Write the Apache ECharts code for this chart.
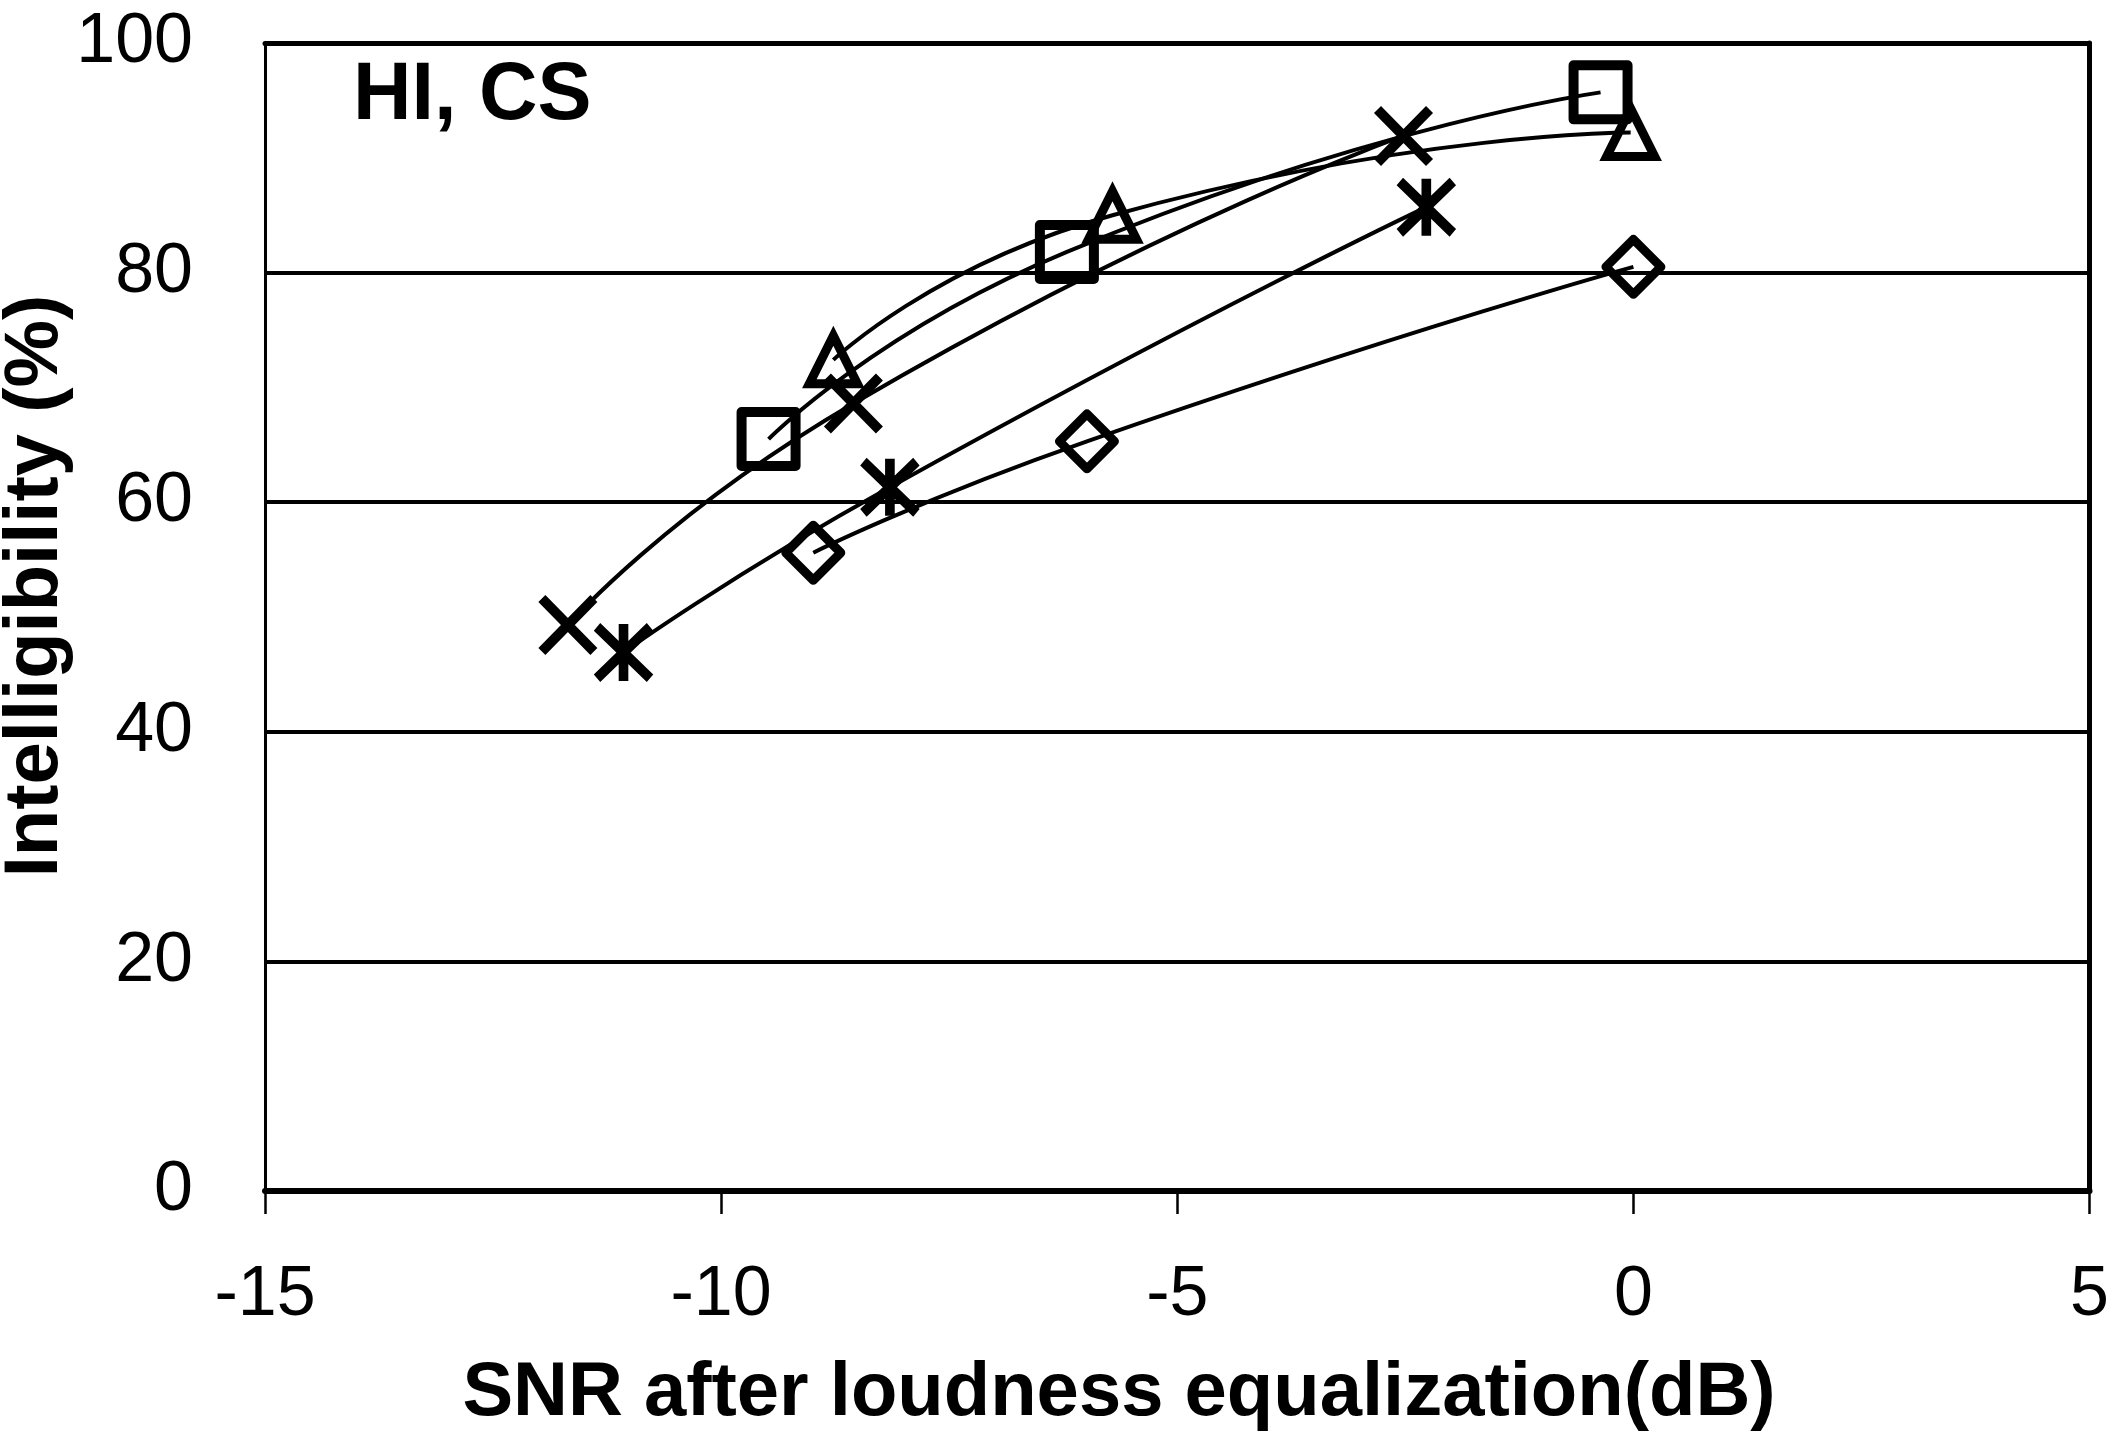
<!DOCTYPE html>
<html>
<head>
<meta charset="utf-8">
<script src="https://cdn.jsdelivr.net/npm/echarts@6/dist/echarts.min.js"></script>
<style>
  html, body { margin: 0; padding: 0; background: #fff; }
  #chart { width: 2112px; height: 1441px; }
</style>
</head>
<body>
<div id="chart"></div>
<script>
// ---- Data ----
var xTicks = [-15, -10, -5, 0, 5];
var yTicks = [0, 20, 40, 60, 80, 100];

var snrSquare   = [-9.48, -6.21, -0.36];
var intSquare   = [65.5, 81.8, 95.7];

var snrTriangle = [-8.77, -5.71, -0.03];
var intTriangle = [72.4, 85.0, 92.2];

var snrCross    = [-11.68, -8.55, -2.52];
var intCross    = [49.3, 68.6, 91.9];

var snrStar     = [-11.07, -8.15, -2.27];
var intStar     = [46.9, 61.3, 85.7];

var snrDiamond  = [-8.99, -5.99, 0.0];
var intDiamond  = [55.6, 65.3, 80.5];

var panelLabel = 'HI, CS';
var xTitle = 'SNR after loudness equalization(dB)';
var yTitle = 'Intelligibility (%)';

function pairs(xs, ys) {
  return xs.map(function (x, i) { return [x, ys[i]]; });
}

var FONT = '"Liberation Sans", Arial, Helvetica, sans-serif';
var crossPath = 'path://M0,0L10,10M10,0L0,10';
var starPath  = 'path://M0,0.5L10,9.5M10,0.5L0,9.5M5,0L5,10';

function mkSeries(name, xs, ys, symbol, size, bw, join) {
  return {
    name: name,
    type: 'line',
    data: pairs(xs, ys),
    smooth: 0.6,
    symbol: symbol,
    symbolSize: size,
    showAllSymbol: true,
    lineStyle: { color: '#000', width: 4 },
    itemStyle: { color: 'rgba(0,0,0,0)', borderColor: '#000', borderWidth: bw, borderJoin: join || 'miter' },
    emphasis: { disabled: true },
    z: 3
  };
}

var chart = echarts.init(document.getElementById('chart'), null, { renderer: 'canvas' });

chart.setOption({
  animation: false,
  backgroundColor: '#fff',
  grid: { left: 265, right: 20, top: 43, bottom: 250, containLabel: false, show: false },
  xAxis: [{
    type: 'value',
    min: xTicks[0], max: xTicks[xTicks.length - 1], interval: 5,
    position: 'bottom',
    axisLine: { show: true, onZero: false, lineStyle: { color: '#000', width: 6 } },
    axisTick: { show: true, inside: false, length: 23, lineStyle: { color: '#000', width: 2.5 } },
    axisLabel: { show: true, margin: 70, color: '#000', fontSize: 70, fontFamily: FONT },
    splitLine: { show: false }
  }, {
    type: 'value',
    min: xTicks[0], max: xTicks[xTicks.length - 1], interval: 5,
    position: 'top',
    axisLine: { show: true, onZero: false, lineStyle: { color: '#000', width: 5 } },
    axisTick: { show: false },
    axisLabel: { show: false },
    splitLine: { show: false }
  }],
  yAxis: [{
    type: 'value',
    min: yTicks[0], max: yTicks[yTicks.length - 1], interval: 20,
    position: 'left',
    axisLine: { show: true, onZero: false, lineStyle: { color: '#000', width: 3 } },
    axisTick: { show: false },
    axisLabel: { show: true, margin: 72, color: '#000', fontSize: 70, fontFamily: FONT },
    splitLine: { show: true, lineStyle: { color: '#000', width: 4 } }
  }, {
    type: 'value',
    min: yTicks[0], max: yTicks[yTicks.length - 1], interval: 20,
    position: 'right',
    axisLine: { show: true, onZero: false, lineStyle: { color: '#000', width: 5 } },
    axisTick: { show: false },
    axisLabel: { show: false },
    splitLine: { show: false }
  }],
  series: [
    mkSeries('Square', snrSquare, intSquare, 'rect', 54, 10, 'round'),
    mkSeries('Triangle', snrTriangle, intTriangle, 'triangle', [48, 48], 9, 'miter'),
    mkSeries('Cross', snrCross, intCross, crossPath, [52, 53], 10),
    mkSeries('Star', snrStar, intStar, starPath, [53, 57], 10),
    mkSeries('Diamond', snrDiamond, intDiamond, 'diamond', [55, 55], 9, 'round')
  ],
  graphic: [
    {
      type: 'text', x: 353, y: 97, z: 10,
      style: { text: panelLabel, font: 'bold 81px ' + FONT, fill: '#000', textAlign: 'left', textVerticalAlign: 'middle' }
    },
    {
      type: 'text', x: 1119, y: 1394, z: 10,
      style: { text: xTitle, font: 'bold 76px ' + FONT, fill: '#000', textAlign: 'center', textVerticalAlign: 'middle' }
    },
    {
      type: 'text', x: 36, y: 586, rotation: Math.PI / 2, z: 10,
      style: { text: yTitle, font: 'bold 76px ' + FONT, fill: '#000', textAlign: 'center', textVerticalAlign: 'middle' }
    }
  ]
});
</script>
</body>
</html>
